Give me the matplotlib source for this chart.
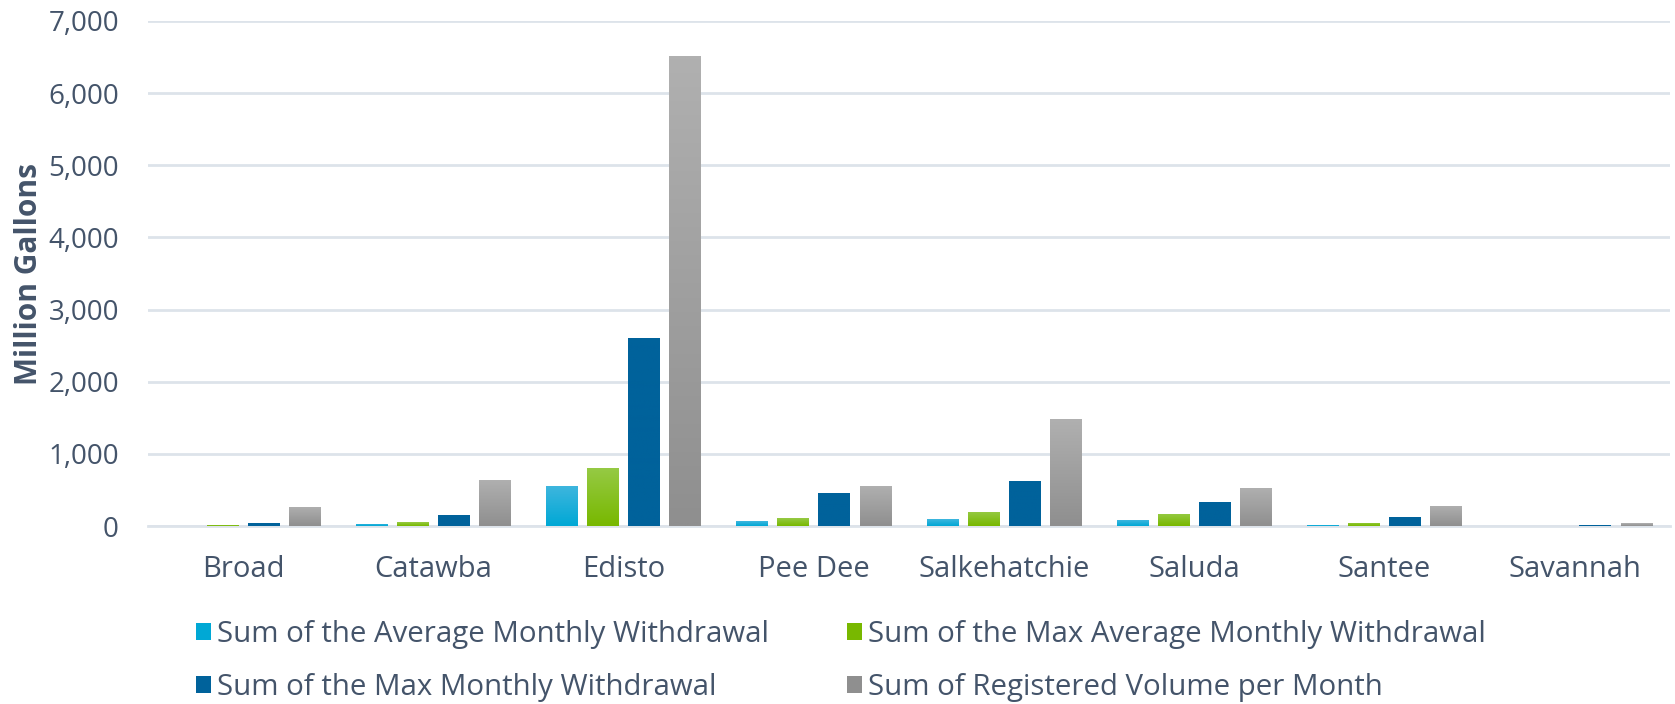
import numpy as np
import matplotlib
matplotlib.use("Agg")
import matplotlib.pyplot as plt
from matplotlib.patches import Patch
from matplotlib.ticker import FuncFormatter

basins = ["Broad", "Catawba", "Edisto", "Pee Dee", "Salkehatchie", "Saluda", "Santee", "Savannah"]
avg_monthly = [3, 30, 555, 65, 97, 83, 15, 2]
max_avg_monthly = [15, 55, 805, 110, 195, 167, 45, 4]
max_monthly = [40, 150, 2610, 462, 625, 333, 130, 15]
registered = [265, 640, 6520, 555, 1485, 527, 278, 40]

series_names = [
    "Sum of the Average Monthly Withdrawal",
    "Sum of the Max Average Monthly Withdrawal",
    "Sum of the Max Monthly Withdrawal",
    "Sum of Registered Volume per Month",
]
series_values = [avg_monthly, max_avg_monthly, max_monthly, registered]
# (top colour, bottom colour) for the gradient fills
series_colors = [
    ("#3fb6de", "#00a8d5"),
    ("#96ca45", "#78b800"),
    ("#00629b", "#00629b"),
    ("#b0b0b0", "#8f8f8f"),
]

text_color = "#44546a"
grid_color = "#dde3ea"

plt.rcParams["font.family"] = ["Open Sans", "DejaVu Sans"]

fig = plt.figure(figsize=(16.75, 7.04), dpi=100)
ax = fig.add_axes([0.0884, 0.2528, 0.9086, 0.7174])

x = np.arange(len(basins))
width = 0.168
step = 0.216


def gradient_bars(ax, xs, heights, c_top, c_bot, w):
    bars = ax.bar(xs, heights, width=w, color=c_bot, zorder=3, linewidth=0)
    top = np.array(matplotlib.colors.to_rgb(c_top))
    bot = np.array(matplotlib.colors.to_rgb(c_bot))
    grad = np.linspace(0, 1, 64)[:, None]
    img = top[None, None, :] * (1 - grad[:, :, None]) + bot[None, None, :] * grad[:, :, None]
    for b in bars:
        if b.get_height() <= 0:
            continue
        x0, y0 = b.get_x(), b.get_y()
        im = ax.imshow(img, extent=[x0, x0 + b.get_width(), y0, y0 + b.get_height()],
                       aspect="auto", zorder=4, interpolation="bilinear")
        im.set_clip_path(b)
    return bars


for i, (vals, (ct, cb)) in enumerate(zip(series_values, series_colors)):
    offs = (i - 1.5) * step
    gradient_bars(ax, x + offs, vals, ct, cb, width)

ax.set_xlim(-0.5, len(basins) - 0.5)
ax.set_ylim(0, 7000)
ax.set_yticks(np.arange(0, 7001, 1000))
ax.yaxis.set_major_formatter(FuncFormatter(lambda v, p: f"{int(v):,}"))
ax.set_xticks(x)
ax.set_xticklabels(basins)
ax.grid(axis="y", color=grid_color, linewidth=2, zorder=0)
ax.set_axisbelow(True)
for s in ["top", "right", "left"]:
    ax.spines[s].set_visible(False)
ax.spines["bottom"].set_color(grid_color)
ax.spines["bottom"].set_linewidth(2)
ax.tick_params(axis="both", length=0, colors=text_color)
ax.tick_params(axis="x", pad=21, labelsize=21)
ax.tick_params(axis="y", pad=21, labelsize=20)
ax.set_ylabel("Million Gallons", fontsize=21.5, fontweight="bold", color=text_color, labelpad=3)

# legend fills column-first, reorder so rows read like the reference
order = [0, 2, 1, 3]
handles = [Patch(facecolor=series_colors[k][1], edgecolor="none") for k in order]
labels = [series_names[k] for k in order]
fig.legend(handles, labels, ncol=2, loc="upper left", bbox_to_anchor=(0.117, 0.119),
           frameon=False, fontsize=21.2, labelcolor=text_color, handlelength=0.51,
           handleheight=0.51, handletextpad=0.2, columnspacing=2.66, labelspacing=0.82,
           borderaxespad=0, borderpad=0)

fig.savefig("out.png", dpi=100)
